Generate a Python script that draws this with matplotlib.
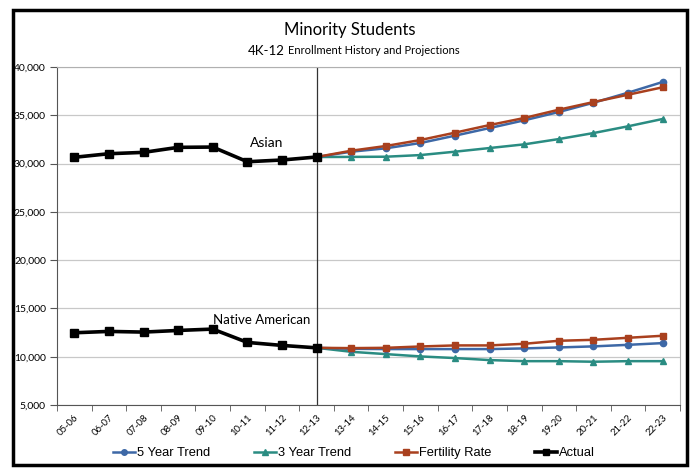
import matplotlib.pyplot as plt
from matplotlib.patches import Rectangle
from matplotlib.ticker import FuncFormatter, FixedLocator

years = ["05-06", "06-07", "07-08", "08-09", "09-10", "10-11", "11-12", "12-13",
         "13-14", "14-15", "15-16", "16-17", "17-18", "18-19", "19-20", "20-21",
         "21-22", "22-23"]

# actual enrollment, 05-06 .. 12-13
asian_actual = [30650, 31020, 31160, 31680, 31710, 30190, 30370, 30680]
native_actual = [12480, 12620, 12550, 12720, 12860, 11480, 11170, 10920]

# projections, 12-13 .. 22-23
asian_5yr = [30680, 31230, 31580, 32130, 32890, 33680, 34480, 35340, 36300, 37340, 38450]
asian_3yr = [30680, 30690, 30710, 30880, 31230, 31610, 31990, 32540, 33160, 33860, 34620]
asian_fert = [30680, 31330, 31820, 32440, 33200, 33990, 34720, 35580, 36370, 37130, 37900]

native_5yr = [10920, 10820, 10790, 10790, 10790, 10790, 10860, 10960, 11070, 11230, 11410]
native_3yr = [10920, 10510, 10270, 10030, 9860, 9650, 9540, 9540, 9480, 9540, 9540]
native_fert = [10920, 10890, 10920, 11060, 11170, 11170, 11340, 11650, 11750, 11960, 12170]

c_5yr = "#3D68A6"
c_3yr = "#2A8C82"
c_fert = "#A9401E"

W, H = 693, 468
fig = plt.figure(figsize=(W / 100, H / 100), dpi=100)
ax = fig.add_axes([57 / W, 1 - 405 / H, 623 / W, 338 / H])

x_act = list(range(8))
x_proj = list(range(7, 18))

for five, three, fert in [(asian_5yr, asian_3yr, asian_fert),
                          (native_5yr, native_3yr, native_fert)]:
    ax.plot(x_proj, three, color=c_3yr, lw=1.8, marker="^", ms=5, zorder=3)
    ax.plot(x_proj, five, color=c_5yr, lw=1.8, marker="o", ms=4.5, zorder=4)
    ax.plot(x_proj, fert, color=c_fert, lw=1.8, marker="s", ms=5, zorder=5)

for act in [asian_actual, native_actual]:
    ax.plot(x_act, act, color="black", lw=2.6, marker="s", ms=6, zorder=6)

ax.axvline(7, color="#333333", lw=0.9, zorder=2)

ax.set_xlim(-0.5, 17.5)
ax.set_ylim(5000, 40000)
ax.set_yticks(range(5000, 40001, 5000))
ax.yaxis.set_major_formatter(FuncFormatter(lambda v, p: f"{int(v):,}"))
ax.grid(axis="y", color="#C8C8C8", lw=0.9)
ax.set_axisbelow(True)

ax.set_xticks(range(18))
ax.set_xticklabels(years, rotation=45, ha="right", va="top", rotation_mode="anchor",
                   fontsize=6.8, family="Lato")
ax.xaxis.set_minor_locator(FixedLocator([i + 0.5 for i in range(-1, 18)]))
ax.tick_params(axis="x", which="major", length=0, pad=6)
ax.tick_params(axis="x", which="minor", length=4, color="#555555")
ax.tick_params(axis="y", length=5, color="#555555", labelsize=7.5, pad=3)
for lab in ax.get_yticklabels():
    lab.set_family("Lato")

for side in ["top", "right"]:
    ax.spines[side].set_color("#B0B0B0")
for side in ["left", "bottom"]:
    ax.spines[side].set_color("#555555")

ax.text(5.55, 32100, "Asian", fontsize=10, ha="center", va="center", family="Lato")
ax.text(4.0, 13750, "Native American", fontsize=9.5, ha="left", va="center",
        family="Lato")

fig.text(350 / W, 1 - 30 / H, "Minority Students", ha="center", va="center",
         fontsize=12, family="Lato")
fig.text(248 / W, 1 - 51 / H, "4K-12", ha="left", va="center",
         fontsize=9.5, family="Lato")
fig.text(288 / W, 1 - 51 / H, "Enrollment History and Projections", ha="left",
         va="center", fontsize=8, family="Lato")

handles = [
    plt.Line2D([], [], color=c_5yr, lw=1.8, marker="o", ms=4),
    plt.Line2D([], [], color=c_3yr, lw=1.8, marker="^", ms=4),
    plt.Line2D([], [], color=c_fert, lw=1.8, marker="s", ms=4),
    plt.Line2D([], [], color="black", lw=2.6, marker="s", ms=4),
]
fig.legend(handles, ["5 Year Trend", "3 Year Trend", "Fertility Rate", "Actual"],
           loc="center left", bbox_to_anchor=(113 / W, 1 - 453 / H), ncol=4,
           frameon=False, handlelength=1.7, handletextpad=0.15, columnspacing=3.4,
           borderpad=0, borderaxespad=0,
           prop={"family": "Liberation Sans", "size": 9.3})

fig.add_artist(Rectangle((13 / W, 1 - 465 / H), 674 / W, 455 / H,
                         transform=fig.transFigure, fill=False, ec="black", lw=2.5))

fig.savefig("out.png", dpi=100)
